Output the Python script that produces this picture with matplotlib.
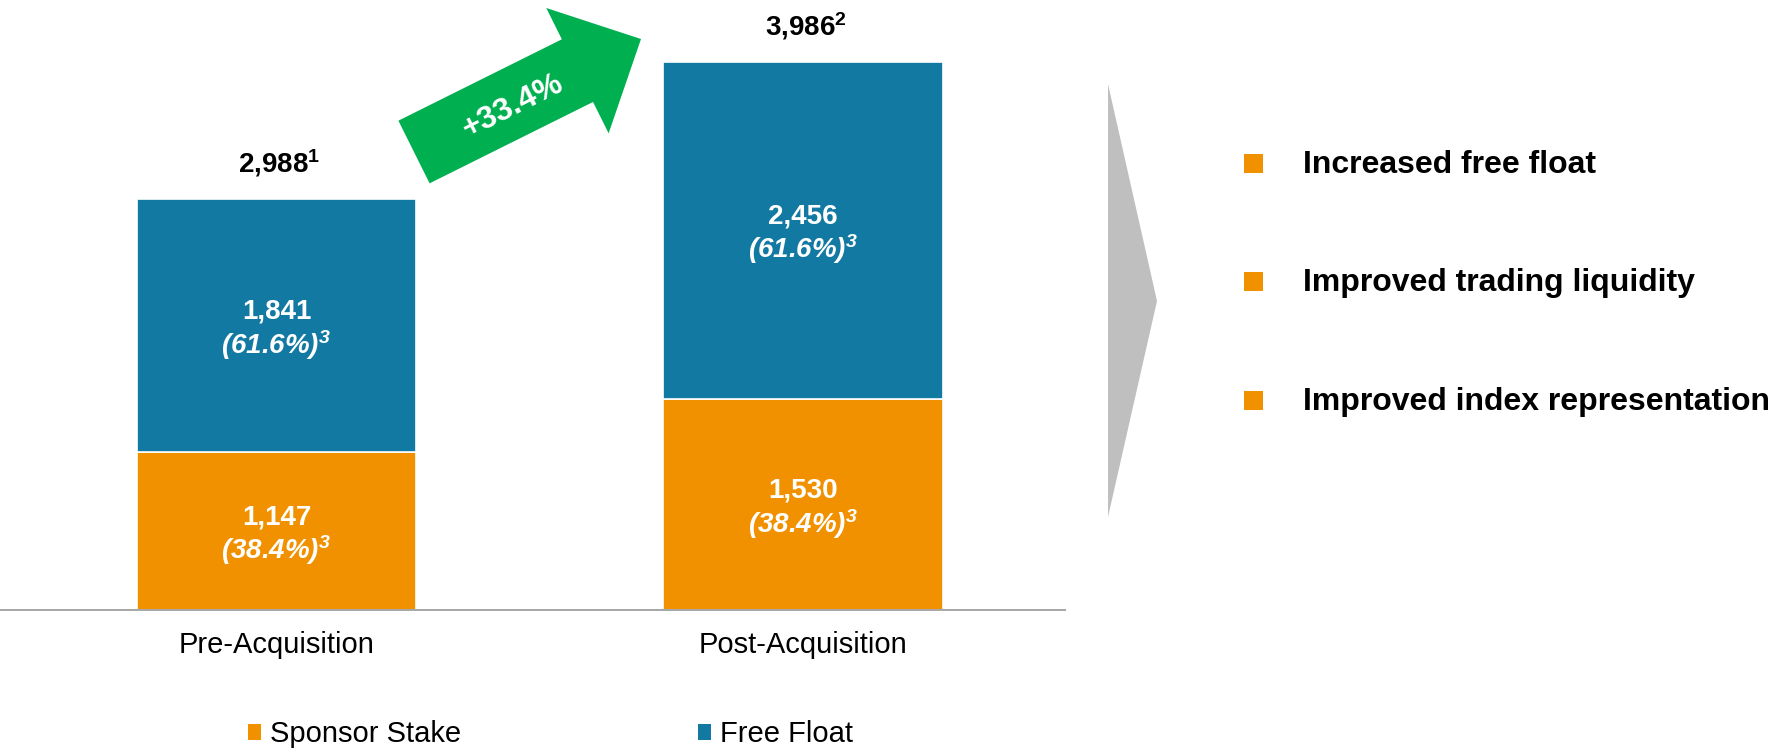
import matplotlib
matplotlib.use("Agg")
import matplotlib.pyplot as plt
from matplotlib.patches import Patch, Polygon, Rectangle, FancyArrow

# ---- data -------------------------------------------------------------
categories = ["Pre-Acquisition", "Post-Acquisition"]
sponsor_stake = [1147, 1530]
free_float = [1841, 2456]
total_notes = ["1", "2"]          # footnote markers on the totals
share_note = "3"
series_names = ["Sponsor Stake", "Free Float"]
benefits = ["Increased free float",
            "Improved trading liquidity",
            "Improved index representation"]

# ---- style ------------------------------------------------------------
ORANGE = "#F29100"
BLUE = "#1279A3"
GREEN = "#00B050"
GREY = "#BFBFBF"
AXIS_GREY = "#A6A6A6"
FONT = "Liberation Sans"
plt.rcParams["font.family"] = [FONT, "DejaVu Sans"]
plt.rcParams["mathtext.fontset"] = "custom"
plt.rcParams["mathtext.rm"] = FONT
plt.rcParams["mathtext.it"] = FONT + ":italic"
plt.rcParams["mathtext.bf"] = FONT + ":bold"
plt.rcParams["mathtext.bfit"] = FONT + ":bold:italic"

W, H, DPI = 1786, 751, 100
fig = plt.figure(figsize=(W / DPI, H / DPI), dpi=DPI)

# main bar axes (positions in figure pixels)
ax_left, ax_right, ax_base = 0, 1065, 610
ax = fig.add_axes([ax_left / W, (H - ax_base) / H,
                   (ax_right - ax_left) / W, ax_base / H])

x = [0, 1]
bar_w = 0.53
totals = [s + f for s, f in zip(sponsor_stake, free_float)]

b1 = ax.bar(x, sponsor_stake, width=bar_w, color=ORANGE,
            edgecolor="white", linewidth=1.2)
b2 = ax.bar(x, free_float, width=bar_w, bottom=sponsor_stake, color=BLUE,
            edgecolor="white", linewidth=1.2)

ax.set_xlim(-0.5252, 1.4976)
ax.set_ylim(0, 4433)
for side in ("left", "right", "top"):
    ax.spines[side].set_visible(False)
ax.spines["bottom"].set_color(AXIS_GREY)
ax.spines["bottom"].set_linewidth(1.4)
ax.set_yticks([])
ax.set_xticks(x, categories)
ax.tick_params(axis="x", length=0, pad=15, labelsize=21, colors="black")


def segment_labels(xi, bottom, value, total):
    mid = bottom + value / 2
    ax.annotate(f"{value:,}", (xi, mid), xytext=(0, 7),
                textcoords="offset pixels", ha="center", va="baseline",
                color="white", fontsize=20, fontweight="bold")
    ax.annotate(f"({value / total * 100:.1f}%)"
                + r"$^{\mathbfit{" + share_note + "}}$", (xi, mid),
                xytext=(0, -28), textcoords="offset pixels", ha="center",
                va="baseline", color="white", fontsize=20,
                fontweight="bold", fontstyle="italic")


for xi, s, f, t, note in zip(x, sponsor_stake, free_float, totals, total_notes):
    segment_labels(xi, 0, s, t)
    segment_labels(xi, s, f, t)
    ax.annotate(f"{t:,}" + r"$^{\mathbf{" + note + "}}$", (xi, t),
                xytext=(3, 26), textcoords="offset pixels", ha="center",
                va="baseline", color="black", fontsize=20,
                fontweight="bold")

# legend
handles = [Patch(facecolor=ORANGE), Patch(facecolor=BLUE)]
fig.legend(handles, series_names, loc="center left",
           bbox_to_anchor=(248 / W, (H - 734) / H), ncol=2, frameon=False,
           fontsize=21, handlelength=0.46, handleheight=0.46,
           handletextpad=0.3, columnspacing=8.1, borderpad=0,
           borderaxespad=0)

# overlay in pixel coordinates (origin top-left) for the decorations
ov = fig.add_axes([0, 0, 1, 1], zorder=5)
ov.set_xlim(0, W)
ov.set_ylim(H, 0)
ov.axis("off")
ov.patch.set_alpha(0)

# growth arrow between the two bars
growth = totals[1] / totals[0] - 1
tail = (414, 152)
tip = (641, 39)
ov.add_patch(FancyArrow(tail[0], tail[1], tip[0] - tail[0], tip[1] - tail[1],
                        width=70, head_width=140, head_length=71,
                        length_includes_head=True, color=GREEN, lw=0))
ov.text(513, 106, f"+{growth * 100:.1f}%", rotation=26.6,
        rotation_mode="anchor", ha="center", va="center", color="white",
        fontsize=23, fontweight="bold")

# chevron separating the chart from the benefits list
ov.add_patch(Polygon([(1108, 84), (1157, 301), (1108, 517)], closed=True,
                     facecolor=GREY, edgecolor="none"))

# benefits list
for i, item in enumerate(benefits):
    base = 173 + i * 118.5
    ov.add_patch(Rectangle((1244, base - 19.5), 19, 19, facecolor=ORANGE,
                           edgecolor="none"))
    ov.text(1303, base, item, ha="left", va="baseline", color="black",
            fontsize=23, fontweight="bold")

fig.savefig("out.png", dpi=DPI)
